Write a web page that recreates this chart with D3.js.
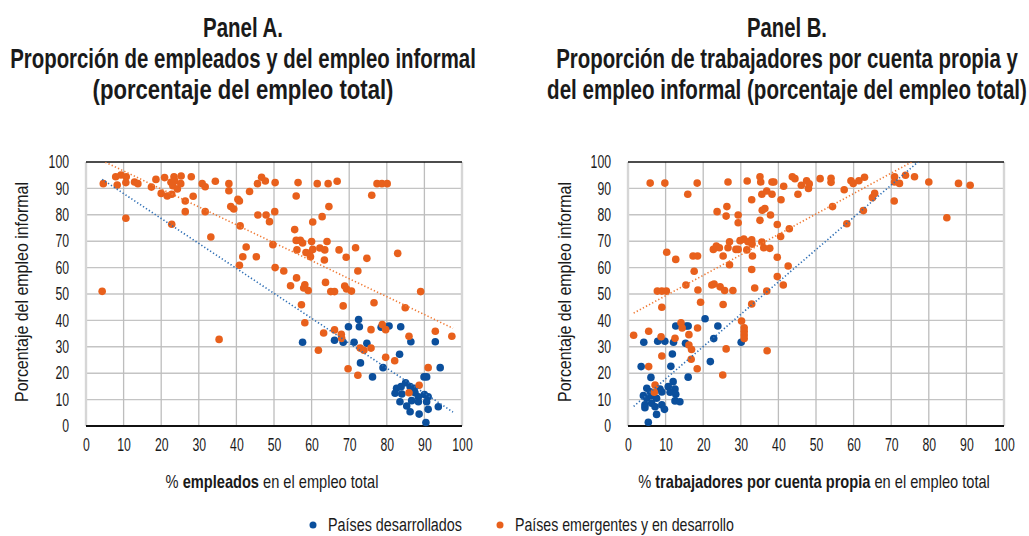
<!DOCTYPE html>
<html>
<head>
<meta charset="utf-8">
<script src="https://cdn.jsdelivr.net/npm/d3@7"></script>
<style>
  body { margin: 0; background: #fff; }
  svg { display: block; }
  text { font-family: "Liberation Sans Narrow", "Liberation Sans", Roboto, Arial, sans-serif; fill: #1a1a1a; }
</style>
</head>
<body>
<svg id="chart" width="1029" height="536"></svg>
<script>
// Panel A: % employees (x) vs % informal employment (y)
const aDeveloped = [
  [57.6,31.7],[66.1,32.5],[68.4,31.7],[69.8,37.6],[72.5,40.3],[72.7,37.6],[71.3,31.7],[74.7,31.3],
  [73.0,23.9],[76.2,18.6],[78.5,37.4],[80.6,37.9],[83.7,37.6],[86.4,31.9],[92.9,31.9],[79.0,22.1],
  [83.4,27.2],[94.2,22.1],[89.9,18.6],[90.6,18.6],[85.0,16.4],[82.6,14.3],[83.8,14.9],[86.2,14.9],
  [87.3,14.3],[82.2,12.4],[84.0,12.1],[87.5,12.6],[90.0,11.9],[88.4,11.1],[91.0,11.1],[83.5,9.2],
  [86.6,9.6],[88.4,9.2],[90.6,9.2],[93.7,7.3],[86.2,5.4],[88.6,4.5],[91.0,6.3],[90.4,1.3],[85.3,7.6]
];
const aEmerging = [
  [4.6,91.8],[7.9,94.4],[8.3,91.3],[9.3,95.1],[10.7,94.4],[10.6,92.2],[10.6,78.7],[12.9,92.4],
  [13.8,91.8],[17.4,90.5],[18.6,93.4],[20.0,88.1],[20.9,94.1],[21.6,87.1],[22.8,87.8],[22.8,76.4],
  [22.6,92.3],[23.4,94.4],[23.6,92.9],[23.1,91.0],[24.3,89.8],[25.2,91.8],[25.3,94.7],[26.4,85.2],
  [26.4,81.2],[28.0,94.4],[28.5,87.0],[30.9,91.8],[31.7,90.6],[31.7,81.2],[33.2,71.6],[34.4,92.7],
  [38.0,91.8],[38.0,89.1],[38.5,83.1],[39.3,82.2],[40.4,85.9],[40.8,85.2],[41.0,75.8],[40.8,60.9],
  [41.7,64.1],[42.6,67.8],[43.5,88.8],[45.3,64.1],[45.6,91.8],[45.7,79.9],[46.7,94.2],[47.7,92.8],
  [47.9,79.9],[48.8,77.4],[49.7,68.7],[50.2,81.2],[50.3,92.2],[50.3,60.0],[4.3,51.0],[35.4,32.8],
  [56.4,92.2],[61.5,91.8],[64.4,91.8],[66.8,92.7],[77.4,91.8],[78.7,91.8],[80.1,91.8],[55.9,87.1],
  [76.0,87.4],[64.6,83.1],[62.8,79.3],[60.3,77.3],[55.5,74.4],[55.9,70.3],[57.0,70.3],[57.6,69.3],
  [60.0,69.9],[64.1,69.9],[56.1,66.7],[60.3,66.9],[62.2,67.4],[63.5,66.7],[58.5,65.7],[59.4,65.4],
  [59.7,64.1],[63.4,62.9],[67.3,66.7],[71.7,67.5],[69.2,63.9],[74.7,63.5],[82.9,65.4],[52.6,58.7],
  [56.0,56.1],[54.4,53.1],[58.2,53.5],[57.9,52.3],[59.1,51.3],[63.7,54.4],[65.1,50.9],[66.1,50.9],
  [68.8,53.0],[69.3,51.9],[70.6,51.1],[72.3,58.7],[89.0,50.9],[57.3,45.9],[68.4,45.5],[76.6,46.7],
  [84.9,44.8],[58.2,39.1],[63.2,35.2],[66.1,36.4],[67.9,34.7],[68.0,33.2],[75.8,36.5],[78.8,38.4],
  [79.7,36.5],[85.9,34.0],[92.9,35.9],[97.3,34.0],[61.8,28.7],[72.9,29.5],[73.9,28.7],[75.8,29.5],
  [79.7,26.0],[82.1,24.7],[69.7,21.7],[72.3,19.2],[91.0,22.1],[88.6,15.4],[85.9,12.6]
];
// Linear trends: [intercept, slope]
const aTrendDeveloped = [97.5, -0.945];
const aTrendEmerging = [103.4, -0.68];
const aTrendRange = [4.3, 97.6];

// Panel B: % own-account workers (x) vs % informal employment (y)
const bDeveloped = [
  [4.1,11.5],[5.0,10.5],[5.0,14.3],[6.3,11.5],[7.6,10.5],[4.5,8.0],[6.3,8.6],[4.5,6.9],[7.2,7.3],
  [9.0,8.0],[9.7,6.3],[7.6,4.4],[5.4,1.4],[8.5,14.0],[10.7,14.9],[12.5,14.0],[11.2,12.8],[12.7,12.0],
  [12.5,9.5],[13.8,9.2],[6.1,18.4],[12.0,16.8],[16.0,18.5],[3.5,22.5],[11.4,22.6],[11.8,27.3],
  [4.2,31.7],[7.9,32.1],[9.8,32.1],[12.1,31.7],[15.3,31.3],[12.7,37.9],[15.5,37.9],[16.0,37.9],
  [20.5,40.6],[23.9,37.9],[22.8,33.1],[21.9,24.4],[30.1,31.7],[9.0,12.9],[5.9,13.0]
];
const bEmerging = [
  [5.9,92.0],[9.8,92.0],[18.4,92.0],[15.9,87.8],[26.6,92.4],[31.7,92.8],[35.1,94.4],[35.3,92.4],
  [38.3,92.4],[38.8,92.4],[41.4,90.8],[43.7,94.4],[44.4,93.7],[46.1,91.2],[47.5,92.9],[48.0,90.0],
  [45.2,87.8],[35.6,87.8],[36.9,89.0],[38.3,87.8],[32.9,85.7],[40.7,85.7],[23.7,81.2],[26.3,83.1],
  [26.1,79.5],[29.3,79.9],[29.3,77.0],[35.7,81.7],[36.4,82.4],[35.1,77.9],[37.9,79.9],[39.7,76.3],
  [42.9,74.7],[40.6,71.8],[10.3,65.8],[12.7,63.1],[17.3,64.4],[18.5,64.4],[17.6,58.6],[22.7,66.9],
  [23.5,68.2],[24.3,67.5],[25.3,64.4],[26.6,67.5],[27.0,69.8],[27.0,61.1],[28.7,66.9],[29.3,66.9],
  [29.8,70.2],[30.8,70.8],[31.6,66.7],[31.9,69.8],[32.9,70.5],[33.0,68.9],[33.1,64.4],[32.9,59.3],
  [35.6,69.7],[36.1,67.5],[37.7,67.3],[39.7,63.9],[42.6,60.6],[39.7,56.6],[41.3,53.4],[33.7,52.3],
  [36.9,51.1],[7.8,51.1],[9.0,51.1],[10.2,51.1],[15.4,53.4],[18.6,51.5],[22.3,53.4],[22.9,53.8],
  [24.5,52.7],[25.7,51.3],[27.9,51.3],[48.2,91.7],[51.1,93.7],[54.0,93.8],[54.0,92.3],[57.5,89.5],
  [59.3,92.9],[59.9,91.9],[61.4,92.9],[62.9,94.2],[54.4,83.1],[58.2,76.6],[62.6,81.6],[65.0,86.5],
  [65.6,88.1],[70.9,94.4],[70.9,92.4],[72.2,91.9],[70.8,85.2],[73.8,95.0],[76.2,94.4],[80.0,92.4],
  [87.9,91.9],[91.0,91.2],[84.8,78.9],[19.3,46.9],[9.0,45.0],[25.3,46.0],[32.9,46.2],[1.5,34.4],
  [5.5,35.9],[8.8,33.8],[14.1,39.1],[14.4,37.1],[12.5,33.2],[16.2,34.6],[16.2,30.7],[16.9,29.0],
  [18.5,37.1],[9.0,26.5],[16.8,25.3],[18.4,21.7],[5.5,22.5],[26.1,29.2],[25.2,19.3],[30.2,39.8],
  [30.9,37.2],[30.9,35.9],[30.9,34.5],[30.9,33.1],[37.0,28.5],[7.2,15.5],[7.0,12.8]
];
const bTrendDeveloped = [5.6, 1.224];
const bTrendEmerging = [41.6, 0.774];
const bTrendRange = [1.5, 91.0];

const xTicks = [0, 10, 20, 30, 40, 50, 60, 70, 80, 90, 100];
const yTicks = [0, 10, 20, 30, 40, 50, 60, 70, 80, 90, 100];
const seriesNames = ["Países desarrollados", "Países emergentes y en desarrollo"];

const BLUE = "#0b4f9c", ORANGE = "#e8601c";
const BLUE_LINE = "#2f6fb5", ORANGE_LINE = "#f07a35";

const svg = d3.select("#chart");
const TOP = 162, BOTTOM = 426, PW = 376;
const SQUEEZE = 0.68;

// Place a text at (tx, ty) and squeeze it horizontally to the given width.
function fitText(sel, tx, ty, width, rotate) {
  const natural = sel.node().getComputedTextLength();
  const k = width / natural;
  sel.attr("x", 0).attr("y", 0)
    .attr("transform", `translate(${tx},${ty})${rotate ? " rotate(" + rotate + ")" : ""} scale(${k},1)`);
  return sel;
}

const panels = [
  {
    left: 86, titleX: 243,
    title: [["Panel A.", 80], ["Proporción de empleados y del empleo informal", 466], ["(porcentaje del empleo total)", 301]],
    xLabel: [["% ", false], ["empleados", true], [" en el empleo total", false]], xLabelLen: 213, yLabelX: 22,
    dev: aDeveloped, emg: aEmerging, trendDev: aTrendDeveloped, trendEmg: aTrendEmerging, range: aTrendRange, id: "a"
  },
  {
    left: 628, titleX: 787,
    title: [["Panel B.", 80], ["Proporción de trabajadores por cuenta propia y", 462], ["del empleo informal (porcentaje del empleo total)", 480]],
    xLabel: [["% ", false], ["trabajadores por cuenta propia", true], [" en el empleo total", false]], xLabelLen: 352, yLabelX: 565,
    dev: bDeveloped, emg: bEmerging, trendDev: bTrendDeveloped, trendEmg: bTrendEmerging, range: bTrendRange, id: "b"
  }
];

panels.forEach(p => {
  const x = d3.scaleLinear().domain([0, 100]).range([p.left, p.left + PW]);
  const y = d3.scaleLinear().domain([0, 100]).range([BOTTOM, TOP]);
  const g = svg.append("g");

  // titles
  const titleBase = [37, 68, 99];
  p.title.forEach((t, i) => {
    const tt = g.append("text").attr("text-anchor", "middle")
      .attr("font-size", 28.5).attr("font-weight", "bold").text(t[0]);
    fitText(tt, p.titleX, titleBase[i], t[1]);
  });

  // grid
  g.append("g").selectAll("line").data(yTicks.filter(v => v > 0 && v < 100)).join("line")
    .attr("x1", x(0)).attr("x2", x(100)).attr("y1", d => y(d)).attr("y2", d => y(d))
    .attr("stroke", "#c4c4c4").attr("stroke-width", 1.4);
  g.append("g").selectAll("line").data(xTicks).join("line")
    .attr("x1", d => x(d)).attr("x2", d => x(d)).attr("y1", y(0)).attr("y2", y(100))
    .attr("stroke", d => (d === 0 || d === 100) ? "#d6d6d6" : "#bdbdbd")
    .attr("stroke-width", d => (d === 0 || d === 100) ? 2.4 : 1.3);
  g.append("line").attr("x1", x(0)).attr("x2", x(100)).attr("y1", y(100)).attr("y2", y(100))
    .attr("stroke", "#111").attr("stroke-width", 1.4);
  g.append("line").attr("x1", x(0)).attr("x2", x(100)).attr("y1", y(0)).attr("y2", y(0))
    .attr("stroke", "#111").attr("stroke-width", 1.8);

  // axes
  const ax = g.append("g").attr("transform", `translate(0,${BOTTOM})`)
    .call(d3.axisBottom(x).tickValues(xTicks).tickSize(0).tickPadding(12));
  const ay = g.append("g").attr("transform", `translate(${p.left},0)`)
    .call(d3.axisLeft(y).tickValues(yTicks).tickSize(0).tickPadding(17));
  [ax, ay].forEach(a => {
    a.select(".domain").remove();
    a.attr("font-family", null).attr("font-size", null);
    a.selectAll("text").attr("font-size", 18).attr("fill", "#262626")
      .each(function () {
        const t = d3.select(this);
        const x0 = +t.attr("x") || 0;
        t.attr("x", x0 / SQUEEZE).attr("transform", `scale(${SQUEEZE},1)`);
      });
  });

  // axis titles
  const xt = g.append("text").attr("text-anchor", "middle").attr("font-size", 19);
  p.xLabel.forEach(s => xt.append("tspan").attr("font-weight", s[1] ? "bold" : "normal").text(s[0]));
  fitText(xt, x(50) - 2, 488, p.xLabelLen);

  const yt = g.append("text").attr("text-anchor", "middle").attr("font-size", 18.5)
    .text("Porcentaje del empleo informal");
  fitText(yt, p.yLabelX + 6, y(50) - 2, 220, -90);

  // points
  const clipId = "clip-" + p.id;
  svg.append("clipPath").attr("id", clipId).append("rect")
    .attr("x", x(0)).attr("y", y(100)).attr("width", PW).attr("height", BOTTOM - TOP);

  g.append("g").selectAll("circle").data(p.dev).join("circle")
    .attr("cx", d => x(d[0])).attr("cy", d => y(d[1])).attr("r", 3.8).attr("fill", BLUE);
  g.append("g").selectAll("circle").data(p.emg).join("circle")
    .attr("cx", d => x(d[0])).attr("cy", d => y(d[1])).attr("r", 3.8).attr("fill", ORANGE);

  // trend lines
  const line = d3.line().x(d => x(d[0])).y(d => y(d[1]));
  [[p.trendDev, BLUE_LINE], [p.trendEmg, ORANGE_LINE]].forEach(([c, col]) => {
    const pts = p.range.map(v => [v, c[0] + c[1] * v]);
    g.append("path").attr("d", line(pts)).attr("clip-path", `url(#${clipId})`)
      .attr("fill", "none").attr("stroke", col).attr("stroke-width", 1.6)
      .attr("stroke-dasharray", "1.3,2.2");
  });
});

// legend
const legend = svg.append("g");
const legendItems = [[313, BLUE, 134], [500, ORANGE, 219]];
legendItems.forEach((it, i) => {
  legend.append("circle").attr("cx", it[0]).attr("cy", 525).attr("r", 3.5).attr("fill", it[1]);
  const lt = legend.append("text").attr("font-size", 19).text(seriesNames[i]);
  fitText(lt, it[0] + 15, 531, it[2]);
});
</script>
</body>
</html>
